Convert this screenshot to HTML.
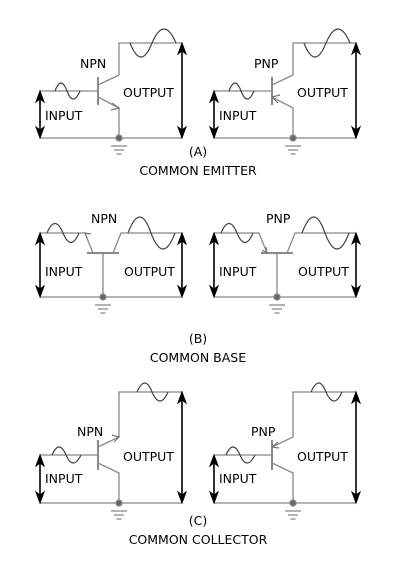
<!DOCTYPE html><html><head><style>body{margin:0;background:#fff}svg{display:block}text{font-family:"DejaVu Sans","Liberation Sans",sans-serif;font-size:12.5px;fill:#000}</style></head><body>
<svg width="400" height="563" viewBox="0 0 400 563" xmlns="http://www.w3.org/2000/svg">
<defs>
<g id="gnd"><circle cx="0" cy="0" r="3" fill="#666"/><path d="M-8,8H8M-5,12H5M-2.5,16H2.5" stroke="#888" stroke-width="1.2"/></g>
<g id="A" fill="none" stroke="#888" stroke-width="1.3">
<path d="M40,91 H98 M98,85 L119,75 V43 H182 M98,97 L119,108 V138 M40,138 H182"/>
<path d="M98,77 V105" stroke-width="2"/>
<path d="M40,95 V134 M182,47 V134" stroke="#000" stroke-width="1.6"/>
<path d="M40,91 l-4,11 l4,-3 l4,3Z M40,138 l-4,-11 l4,3 l4,-3Z M182,43 l-4,11 l4,-3 l4,3Z M182,138 l-4,-11 l4,3 l4,-3Z" fill="#000" stroke="#000" stroke-width="1"/>
<use href="#gnd" x="119" y="138"/>
</g>
<g id="B" fill="none" stroke="#888" stroke-width="1.3">
<path d="M40,233 H85 L93,253 M113,253 L121,233 H182 M103,253 V297 M40,297 H182"/>
<path d="M87,253 H119" stroke-width="2"/>
<path d="M40,237 V293 M182,237 V293" stroke="#000" stroke-width="1.6"/>
<path d="M40,233 l-4,11 l4,-3 l4,3Z M40,297 l-4,-11 l4,3 l4,-3Z M182,233 l-4,11 l4,-3 l4,3Z M182,297 l-4,-11 l4,3 l4,-3Z" fill="#000" stroke="#000" stroke-width="1"/>
<use href="#gnd" x="103" y="297"/>
</g>
<g id="C" fill="none" stroke="#888" stroke-width="1.3">
<path d="M40,455 H98 M98,447 L119,437 V392 H182 M98,463 L119,473 V503 M40,503 H182"/>
<path d="M98,440 V470" stroke-width="2"/>
<path d="M40,459 V499 M182,396 V499" stroke="#000" stroke-width="1.6"/>
<path d="M40,455 l-4,11 l4,-3 l4,3Z M40,503 l-4,-11 l4,3 l4,-3Z M182,392 l-4,11 l4,-3 l4,3Z M182,503 l-4,-11 l4,3 l4,-3Z" fill="#000" stroke="#000" stroke-width="1"/>
<use href="#gnd" x="119" y="503"/>
</g>
</defs>
<g fill="none" stroke="#444" stroke-width="1.2">
<use href="#A"/>
<path d="M55,91 Q61,75 67,91 Q73,107 80,91 M130,43 Q141,71 152,43 Q164,15 176,43"/>
<path d="M112,103 L119,108 L111,110" stroke="#777"/>
<use href="#A" x="174"/>
<path d="M229,91 Q235,75 241,91 Q247,107 254,91 M304,43 Q315,71 326,43 Q338,15 350,43"/>
<path d="M280,95 L272,97 L278,103" stroke="#777"/>
<use href="#B"/>
<path d="M47,233 Q55,214 63,233 Q71,252 79,233 M128,233 Q140,201 151,233 Q163,265 175,233"/>
<path d="M87,238 L85,233 L91,234" stroke="#777"/>
<use href="#B" x="174"/>
<path d="M221,233 Q229,214 237,233 Q245,252 253,233 M302,233 Q314,201 325,233 Q337,265 349,233"/>
<path d="M266,247 L267,253 L262,250" stroke="#777"/>
<use href="#C"/>
<path d="M52,455 Q59,439 66,455 Q73,471 81,455 M137,392 Q145,374 152,392 Q160,410 168,392"/>
<path d="M112,435 L119,437 L114,442" stroke="#777"/>
<use href="#C" x="174"/>
<path d="M226,455 Q233,439 240,455 Q247,471 255,455 M311,392 Q319,374 326,392 Q334,410 342,392"/>
<path d="M278,442 L272,447 L279,448" stroke="#777"/>
</g>
<text x="80" y="68">NPN</text><text x="254" y="68">PNP</text>
<text x="123" y="97">OUTPUT</text><text x="297" y="97">OUTPUT</text>
<text x="45" y="120">INPUT</text><text x="219" y="120">INPUT</text>
<text x="198" y="156" text-anchor="middle">(A)</text>
<text x="198" y="175" text-anchor="middle">COMMON EMITTER</text>
<text x="91" y="223">NPN</text><text x="266" y="223">PNP</text>
<text x="45" y="276">INPUT</text><text x="219" y="276">INPUT</text>
<text x="124" y="276">OUTPUT</text><text x="298" y="276">OUTPUT</text>
<text x="198" y="343" text-anchor="middle">(B)</text>
<text x="198" y="362" text-anchor="middle">COMMON BASE</text>
<text x="77" y="436">NPN</text><text x="251" y="436">PNP</text>
<text x="123" y="461">OUTPUT</text><text x="297" y="461">OUTPUT</text>
<text x="45" y="483">INPUT</text><text x="219" y="483">INPUT</text>
<text x="198" y="525" text-anchor="middle">(C)</text>
<text x="198" y="544" text-anchor="middle">COMMON COLLECTOR</text>
</svg></body></html>
